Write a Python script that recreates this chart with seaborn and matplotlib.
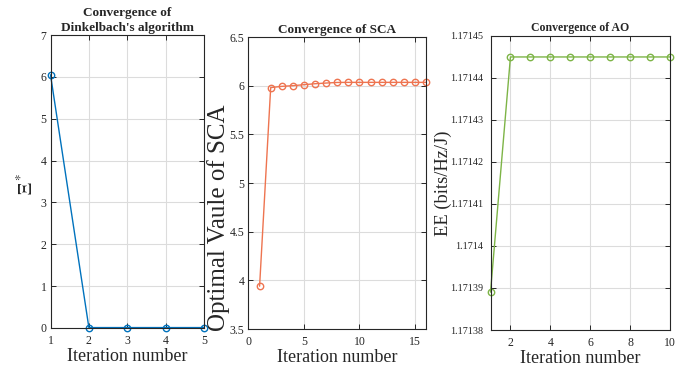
import numpy as np
import pandas as pd
import matplotlib
matplotlib.use("Agg")
import matplotlib.pyplot as plt
from matplotlib.ticker import FuncFormatter, MultipleLocator
import seaborn as sns

# Dinkelbach outer iterations
dink_iter = [1, 2, 3, 4, 5]
dink_xi = [6.05, 0.01, 0.01, 0.01, 0.01]

# SCA inner iterations
sca_iter = list(range(1, 17))
sca_val = [3.94, 5.98, 5.993, 6.00, 6.01, 6.02, 6.027, 6.033, 6.034, 6.034,
           6.034, 6.034, 6.034, 6.034, 6.034, 6.034]

# Alternating optimisation iterations
ao_iter = list(range(1, 11))
ao_ee = [1.171389, 1.1714449, 1.1714449, 1.1714449, 1.1714449, 1.1714449,
         1.1714449, 1.1714449, 1.1714449, 1.1714449]

sns.set_theme(style="whitegrid")
plt.rcParams["font.family"] = ["Liberation Serif", "DejaVu Serif"]
plt.rcParams["mathtext.fontset"] = "stix"

blue = "#0072BD"
orange = "#EE7450"
green = "#7DB446"
ink = "#262626"

W, H = 688, 374


def box(l, t, r, b):
    return [l / W, (H - b) / H, (r - l) / W, (b - t) / H]


fig = plt.figure(figsize=(6.88, 3.74), dpi=100)
ax1 = fig.add_axes(box(50.5, 35, 204, 328))
ax2 = fig.add_axes(box(248.5, 37, 426, 329))
ax3 = fig.add_axes(box(490.5, 35.5, 670, 330))


def draw(ax, x, y, color):
    df = pd.DataFrame({"x": x, "y": y})
    sns.lineplot(data=df, x="x", y="y", ax=ax, color=color, lw=1.0,
                 marker="o", markersize=4.6, markerfacecolor="none",
                 markeredgecolor=color, markeredgewidth=1.0, clip_on=False)


def style(ax, xsize, ysize, ypad=3):
    ax.set_facecolor("white")
    ax.grid(True, color="#DCDCDC", lw=0.8)
    for s in ax.spines.values():
        s.set_color(ink)
        s.set_linewidth(0.8)
        s.set_visible(True)
    ax.tick_params(direction="in", length=3.5, width=0.7, color=ink,
                   labelcolor=ink, top=True, right=True,
                   left=True, bottom=True)
    ax.tick_params(axis="x", labelsize=xsize, pad=5)
    ax.tick_params(axis="y", labelsize=ysize, pad=ypad)
    ax.set_xlabel("Iteration number", fontsize=13, labelpad=1, color=ink)


draw(ax1, dink_iter, dink_xi, blue)
draw(ax2, sca_iter, sca_val, orange)
draw(ax3, ao_iter, ao_ee, green)

style(ax1, 8.5, 8.5)
style(ax2, 8.5, 8.5)
style(ax3, 8.5, 7.3, ypad=5.5)

ax1.set_xlim(1, 5)
ax1.set_ylim(0, 7)
ax1.xaxis.set_major_locator(MultipleLocator(1))
ax1.yaxis.set_major_locator(MultipleLocator(1))
ax1.set_ylabel(r"$\Xi^*$", fontsize=13.5, color=ink)
ax1.yaxis.set_label_coords(-0.09, 0.49)
ax1.set_title("Convergence of\nDinkelbach's algorithm", fontsize=9.5,
              fontweight="bold", pad=3, linespacing=1.3)

ax2.set_xlim(0, 16)
ax2.set_ylim(3.5, 6.5)
ax2.xaxis.set_major_locator(MultipleLocator(5))
ax2.yaxis.set_major_locator(MultipleLocator(0.5))
ax2.yaxis.set_major_formatter(FuncFormatter(lambda v, p: f"{v:g}"))
ax2.set_ylabel("Optimal Vaule of SCA", fontsize=18, color=ink)
ax2.yaxis.set_label_coords(-0.105, 0.38)
ax2.set_title("Convergence of SCA", fontsize=9.5, fontweight="bold", pad=3)

ax3.set_xlim(1, 10)
ax3.set_ylim(1.17138, 1.17145)
ax3.set_xticks([2, 4, 6, 8, 10])
ax3.set_yticks(np.round(np.arange(1.17138, 1.171455, 0.00001), 5))
ax3.yaxis.set_major_formatter(FuncFormatter(lambda v, p: f"{v:.6g}"))
ax3.set_ylabel("EE (bits/Hz/J)", fontsize=13.3, color=ink)
ax3.yaxis.set_label_coords(-0.215, 0.5)
ax3.set_title("Convergence of AO", fontsize=8.5, fontweight="bold", pad=3)

fig.savefig("out.png", dpi=100, facecolor="white")
